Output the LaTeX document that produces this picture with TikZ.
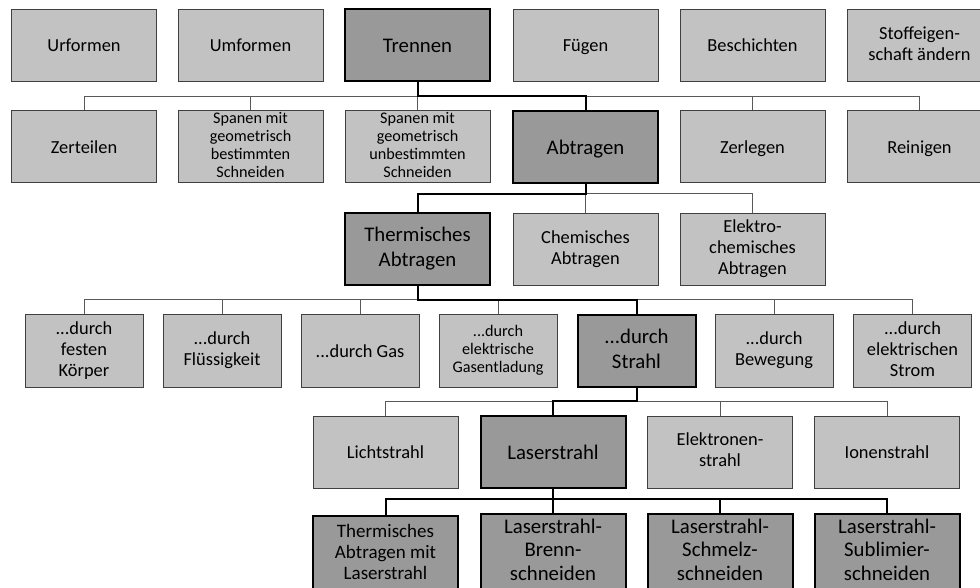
\documentclass[tikz,border=0pt]{standalone}
\usepackage{fontspec}
\setmainfont{Carlito}
\definecolor{hell}{gray}{0.76}
\definecolor{dunkel}{gray}{0.6}
\newcommand\zeilenhalt{\rule[-0.22em]{0pt}{1.14em}}
\tikzset{
  box/.style={rectangle, draw=black!75, fill=hell, line width=0.5pt, minimum width=72.5pt, minimum height=36pt, inner sep=0pt, align=center, font=\fontsize{9.2}{10.5}\selectfont, execute at begin node=\zeilenhalt, execute at end node=\zeilenhalt},
  sel/.style={box, draw=black, fill=dunkel, line width=1pt, font=\fontsize{10.4}{12.5}\selectfont},
  schmal/.style={minimum width=59pt},
  klein/.style={font=\fontsize{8.1}{9}\selectfont},
  bus/.style={draw=black!65, line width=0.5pt},
  pfad/.style={draw=black, line width=1pt}
}
\begin{document}
\begin{tikzpicture}[x=0.5pt,y=-0.5pt]
			\useasboundingbox (0,0) rectangle (980,588);

			\node[box] (urformen) at (84,45.5) {Urformen};
			\node[box] (umformen) at (250.5,45.5) {Umformen};
			\node[sel] (trennen) at (417.5,45.5) {Trennen};
			\node[box] (fuegen) at (585.5,45.5) {Fügen};
			\node[box] (beschichten) at (752.5,45.5) {Beschichten};
			\node[box] (stoff) at (919.5,45.5) {Stoffeigen-\\schaft ändern};

			\node[box] (zerteilen) at (84,147) {Zerteilen};
			\node[box, klein] (spanenb) at (250.5,147) {Spanen mit\\geometrisch\\bestimmten\\Schneiden};
			\node[box, klein] (spanenu) at (417.5,147) {Spanen mit\\geometrisch\\unbestimmten\\Schneiden};
			\node[sel] (abtragen) at (585.5,147) {Abtragen};
			\node[box] (zerlegen) at (752.5,147) {Zerlegen};
			\node[box] (reinigen) at (919.5,147) {Reinigen};

			\node[sel] (thermisch) at (417.5,249.5) {Thermisches\\Abtragen};
			\node[box] (chemisch) at (585.5,249.5) {Chemisches\\Abtragen};
			\node[box] (elektrochem) at (752.5,249.5) {Elektro-\\chemisches\\Abtragen};

			\node[box, schmal] (fest) at (84,351) {...durch\\festen\\Körper};
			\node[box, schmal] (fluessig) at (222,351) {...durch\\Flüssigkeit};
			\node[box, schmal] (gas) at (360,351) {...durch Gas};
			\node[box, schmal, klein] (entladung) at (498,351) {...durch\\elektrische\\Gasentladung};
			\node[sel, schmal] (strahl) at (636.5,351) {...durch\\Strahl};
			\node[box, schmal] (bewegung) at (774,351) {...durch\\Bewegung};
			\node[box, schmal] (strom) at (912.5,351) {...durch\\elektrischen\\Strom};

			\node[box] (licht) at (385.5,452) {Lichtstrahl};
			\node[sel] (laser) at (553,452) {Laserstrahl};
			\node[box] (elektronen) at (720,452) {Elektronen-\\strahl};
			\node[box] (ionen) at (887,452) {Ionenstrahl};

			\node[sel, minimum height=38pt, font=\fontsize{9.5}{10.5}\selectfont] (tal) at (385.5,554) {Thermisches\\Abtragen mit\\Laserstrahl};
			\node[sel, minimum height=38pt, font=\fontsize{10.4}{11.6}\selectfont] (brenn) at (553,552) {Laserstrahl-\\Brenn-\\schneiden};
			\node[sel, minimum height=38pt, font=\fontsize{10.4}{11.6}\selectfont] (schmelz) at (720,552) {Laserstrahl-\\Schmelz-\\schneiden};
			\node[sel, minimum height=38pt, font=\fontsize{10.4}{11.6}\selectfont] (sublim) at (887,552) {Laserstrahl-\\Sublimier-\\schneiden};

			\coordinate (k1) at (417.5,96.5);
			\coordinate (k2) at (585.5,194);
			\coordinate (k3) at (417.5,300);
			\coordinate (k4) at (636.5,401);
			\coordinate (k5) at (553,499);

			\draw[bus] (k1) -| (zerteilen.north);
			\draw[bus] (k1) -| (spanenb.north);
			\draw[bus] (k1) -| (spanenu.north);
			\draw[bus] (k1) -| (zerlegen.north);
			\draw[bus] (k1) -| (reinigen.north);
			\draw[pfad] (trennen.south) -- (k1) -| (abtragen.north);

			\draw[bus] (k2) -| (chemisch.north);
			\draw[bus] (k2) -| (elektrochem.north);
			\draw[pfad] (abtragen.south) -- (k2) -| (thermisch.north);

			\draw[bus] (k3) -| (fest.north);
			\draw[bus] (k3) -| (fluessig.north);
			\draw[bus] (k3) -| (gas.north);
			\draw[bus] (k3) -| (entladung.north);
			\draw[bus] (k3) -| (bewegung.north);
			\draw[bus] (k3) -| (strom.north);
			\draw[pfad] (thermisch.south) -- (k3) -| (strahl.north);

			\draw[bus] (k4) -| (licht.north);
			\draw[bus] (k4) -| (elektronen.north);
			\draw[bus] (k4) -| (ionen.north);
			\draw[pfad] (strahl.south) -- (k4) -| (laser.north);

			\draw[pfad] (laser.south) -- (k5) -| (tal.north);
			\draw[pfad] (k5) -| (brenn.north);
			\draw[pfad] (k5) -| (schmelz.north);
			\draw[pfad] (k5) -| (sublim.north);
		\end{tikzpicture}
\end{document}
